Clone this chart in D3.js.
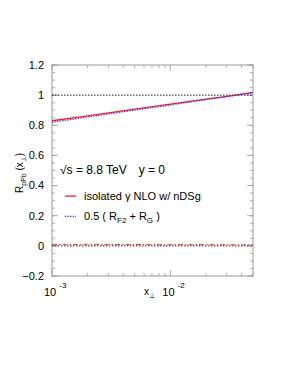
<!DOCTYPE html>
<html>
<head>
<meta charset="utf-8">
<script src="https://cdn.jsdelivr.net/npm/d3@7"></script>
<style>
  body { margin: 0; background: #fff; }
  text { font-family: "Liberation Sans", Arial, sans-serif; fill: #000; }
</style>
</head>
<body>
<div id="chart"></div>
<script>
// x_perp points and the curves
var xPerp = [0.001, 0.002, 0.003, 0.005, 0.01, 0.02, 0.03, 0.05];
var rIsoNLO = [0.830, 0.863, 0.882, 0.907, 0.940, 0.973, 0.992, 1.018];
var rHalfF2G = [0.820, 0.855, 0.875, 0.901, 0.935, 0.970, 0.990, 1.016];
var rLowCurve = [0.010, 0.010, 0.009, 0.009, 0.008, 0.008, 0.007, 0.007];
var yTicks = [-0.2, 0, 0.2, 0.4, 0.6, 0.8, 1, 1.2];
var xTicks = [0.001, 0.01];
var legendLabels = ["isolated \u03b3 NLO w/ nDSg", "0.5 ( R"];

var W = 291, H = 376;
var margin = {top: 65, right: 38, bottom: 100, left: 52};
var width = W - margin.left - margin.right,
    height = H - margin.top - margin.bottom;

var svg = d3.select("#chart").append("svg")
  .attr("width", W).attr("height", H);
var g = svg.append("g")
  .attr("transform", "translate(" + margin.left + "," + margin.top + ")");

var x = d3.scaleLog().domain([0.001, 0.05]).range([0, width]);
var y = d3.scaleLinear().domain([-0.2, 1.2]).range([height, 0]);

var axisCol = "#9a9a9a";

// minor ticks
var yMinor = d3.range(-0.2, 1.2001, 0.05);
var xMinor = [];
[0.001, 0.01].forEach(function(d) {
  for (var k = 2; k <= 9; k++) if (d * k <= 0.05 + 1e-9) xMinor.push(d * k);
});

function tickLines(sel, data, isX, len, side) {
  sel.selectAll(null).data(data).enter().append("line")
    .attr("x1", function(d) { return isX ? x(d) : (side ? width : 0); })
    .attr("x2", function(d) { return isX ? x(d) : (side ? width - len : len); })
    .attr("y1", function(d) { return isX ? (side ? 0 : height) : y(d); })
    .attr("y2", function(d) { return isX ? (side ? len : height - len) : y(d); })
    .attr("stroke", axisCol).attr("stroke-width", 0.8);
}
var tk = g.append("g");
tickLines(tk, yMinor, false, 3, false);
tickLines(tk, yMinor, false, 3, true);
tickLines(tk, yTicks, false, 6, false);
tickLines(tk, yTicks, false, 6, true);
tickLines(tk, xMinor, true, 3, false);
tickLines(tk, xMinor, true, 3, true);
tickLines(tk, xTicks, true, 6, false);
tickLines(tk, xTicks, true, 6, true);

g.append("rect").attr("width", width).attr("height", height)
  .attr("fill", "none").attr("stroke", axisCol).attr("stroke-width", 1);

// y tick labels
g.selectAll(".ylab").data(yTicks).enter().append("text")
  .attr("x", -8).attr("y", function(d) { return y(d); })
  .attr("dy", "0.35em").attr("text-anchor", "end")
  .style("font-size", "11px")
  .text(function(d) { return d3.format("")(Math.round(d * 10) / 10); });

// x tick labels 10^n
xTicks.forEach(function(d) {
  var t = g.append("text")
    .attr("x", x(d) - 8).attr("y", height + 20)
    .style("font-size", "11px");
  t.append("tspan").text("10");
  t.append("tspan").attr("dx", 3).attr("dy", -8).style("font-size", "8px")
    .text(Math.round(Math.log10(d)));
});

// axis titles
var xt = g.append("text").attr("x", 92).attr("y", height + 19)
  .style("font-size", "10px");
xt.append("tspan").text("x");
xt.append("tspan").attr("dy", 3).style("font-size", "7px").text("\u22a5");

var yt = svg.append("text")
  .attr("transform", "translate(23,193) rotate(-90)")
  .style("font-size", "10px");
yt.append("tspan").text("R");
yt.append("tspan").attr("dy", 3).style("font-size", "7px").text("pPb");
yt.append("tspan").attr("dy", -3).text(" (x");
yt.append("tspan").attr("dy", 3).style("font-size", "7px").text("\u22a5");
yt.append("tspan").attr("dy", -3).text(")");

// reference lines
var refLine = d3.line().x(function(d) { return x(d[0]); }).y(function(d) { return y(d[1]); });
[1, 0].forEach(function(v) {
  g.append("path").datum([[0.001, v], [0.05, v]]).attr("d", refLine)
    .attr("fill", "none").attr("stroke", "#000").attr("stroke-width", 0.9)
    .attr("stroke-dasharray", "1.5,1.5");
});

var line = d3.line()
  .x(function(d, i) { return x(xPerp[i]); })
  .y(function(d) { return y(d); });

g.append("path").datum(rLowCurve).attr("d", line)
  .attr("fill", "none").attr("stroke", "#ff3030").attr("stroke-width", 1)
  .attr("stroke-dasharray", "5,2,1.5,2");
g.append("path").datum(rIsoNLO).attr("d", line)
  .attr("fill", "none").attr("stroke", "#ff2020").attr("stroke-width", 1.3);
g.append("path").datum(rHalfF2G).attr("d", line)
  .attr("fill", "none").attr("stroke", "#3030ff").attr("stroke-width", 1.3)
  .attr("stroke-dasharray", "1.3,1.3");

// header text
g.append("text").attr("x", 8).attr("y", y(0.475)).style("font-size", "12px")
  .text("\u221as = 8.8 TeV");
g.append("text").attr("x", 113).attr("y", y(0.475)).attr("text-anchor", "end")
  .style("font-size", "12px").text("y = 0");

// legend
g.append("line").attr("x1", 13).attr("x2", 24).attr("y1", y(0.33)).attr("y2", y(0.33))
  .attr("stroke", "#ff2020").attr("stroke-width", 1.3);
g.append("text").attr("x", 32).attr("y", y(0.33)).attr("dy", "0.35em")
  .style("font-size", "11px").text(legendLabels[0]);

g.append("line").attr("x1", 13).attr("x2", 24).attr("y1", y(0.195)).attr("y2", y(0.195))
  .attr("stroke", "#3030ff").attr("stroke-width", 1.2).attr("stroke-dasharray", "1.3,1.3");
var lt = g.append("text").attr("x", 32).attr("y", y(0.195)).attr("dy", "0.35em")
  .style("font-size", "11px");
lt.append("tspan").text(legendLabels[1]);
lt.append("tspan").attr("dy", 3).style("font-size", "8px").text("F2");
lt.append("tspan").attr("dy", -3).text(" + R");
lt.append("tspan").attr("dy", 3).style("font-size", "8px").text("G");
lt.append("tspan").attr("dy", -3).text(" )");
</script>
</body>
</html>
